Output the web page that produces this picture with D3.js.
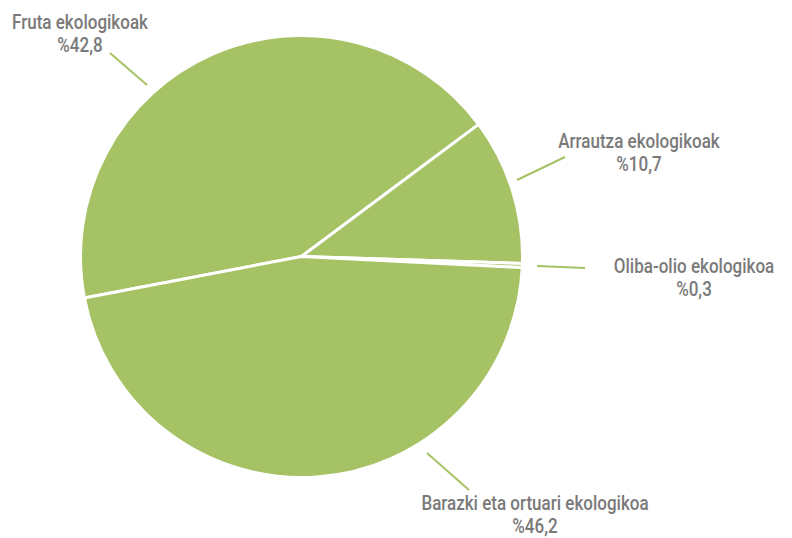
<!DOCTYPE html>
<html><head><meta charset="utf-8">
<script src="https://cdn.jsdelivr.net/npm/d3@7"></script>
<style>body{margin:0;background:#fff}svg{display:block}</style>
</head><body>
<svg id="chart" width="792" height="538"></svg>
<script>
// Product categories and their share (%)
const categories = ["Fruta ekologikoak", "Arrautza ekologikoak", "Oliba-olio ekologikoa", "Barazki eta ortuari ekologikoa"];
const values = [42.8, 10.7, 0.3, 46.2];
const valueLabels = ["%42,8", "%10,7", "%0,3", "%46,2"];

// Label anchor positions (centre x, first baseline y) and leader lines
const labelPos = [[80, 29], [639, 148], [694, 273], [535, 510]];
const leaders = [[[110, 53], [147, 85]], [[517, 180], [565, 157]], [[537, 266], [585, 268]], [[427, 453], [469, 490]]];

const svg = d3.select("#chart");
const cx = 301.5, cy = 256.5, r = 221;
const start = -100.8 * Math.PI / 180;

const pie = d3.pie().sort(null).value(d => d.v)
  .startAngle(start).endAngle(start + 2 * Math.PI);
const arcs = pie(values.map((v, i) => ({v, i})));
const arc = d3.arc().innerRadius(0).outerRadius(r);

const g = svg.append("g").attr("transform", `translate(${cx},${cy})`);
g.selectAll("path").data(arcs).join("path")
  .attr("d", arc)
  .attr("fill", "#a5c264")
  .attr("stroke", "#ffffff")
  .attr("stroke-width", 3)
  .attr("stroke-linejoin", "round");

svg.selectAll("line.leader").data(leaders).join("line")
  .attr("class", "leader")
  .attr("x1", d => d[0][0]).attr("y1", d => d[0][1])
  .attr("x2", d => d[1][0]).attr("y2", d => d[1][1])
  .attr("stroke", "#a5c264").attr("stroke-width", 2);

// Condensed label text: a regular face squeezed horizontally
const font = "Roboto, 'DejaVu Sans', sans-serif";
const fs = 20.5;
const probe = svg.append("text").attr("font-family", font).attr("font-size", fs)
  .attr("font-weight", 500).text(categories[0]);
const sx = 136 / probe.node().getComputedTextLength();
probe.remove();

categories.forEach((c, i) => {
  const [x, y] = labelPos[i];
  const t = svg.append("text")
    .attr("transform", `translate(${x},${y}) scale(${sx},1)`)
    .attr("text-anchor", "middle")
    .attr("font-family", font)
    .attr("font-size", fs)
    .attr("font-weight", 500)
    .attr("fill", "#7a7a7a");
  t.append("tspan").attr("x", 0).attr("y", 0).text(c);
  t.append("tspan").attr("x", 0).attr("y", 23.5).text(valueLabels[i]);
});
</script>
</body></html>
